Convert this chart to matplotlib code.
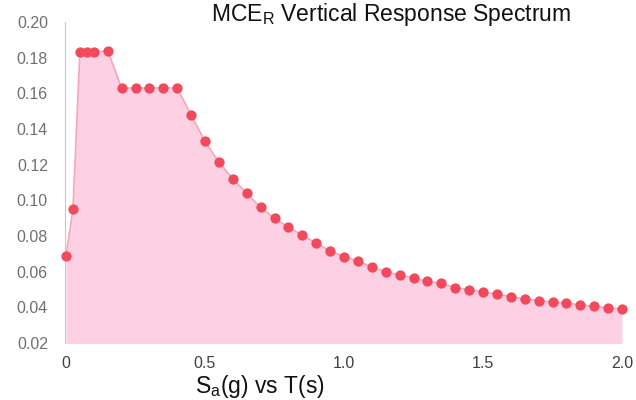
import matplotlib.pyplot as plt

# period T (s) and spectral acceleration Sa (g)
period = [0.0, 0.025, 0.05, 0.075, 0.1, 0.15,
          0.2, 0.25, 0.3, 0.35, 0.4,
          0.45, 0.5, 0.55, 0.6, 0.65, 0.7, 0.75, 0.8, 0.85, 0.9, 0.95,
          1.0, 1.05, 1.1, 1.15, 1.2, 1.25, 1.3, 1.35, 1.4, 1.45,
          1.5, 1.55, 1.6, 1.65, 1.7, 1.75, 1.8, 1.85, 1.9, 1.95, 2.0]
sa = [0.069, 0.095, 0.183, 0.183, 0.183, 0.184,
      0.163, 0.163, 0.163, 0.163, 0.163,
      0.148, 0.133, 0.1215, 0.112, 0.104, 0.096, 0.090, 0.085, 0.0805, 0.076, 0.0716,
      0.0685, 0.066, 0.0626, 0.060, 0.058, 0.0565, 0.0545, 0.0535, 0.051, 0.050,
      0.0486, 0.0475, 0.046, 0.0447, 0.0437, 0.043, 0.0424, 0.0413, 0.0406, 0.0398, 0.0391]
yticks = [0.02, 0.04, 0.06, 0.08, 0.10, 0.12, 0.14, 0.16, 0.18, 0.20]
xticks = [0, 0.5, 1.0, 1.5, 2.0]
xlabels = ['0', '0.5', '1.0', '1.5', '2.0']

plt.rcParams['font.family'] = ['Liberation Sans', 'DejaVu Sans']

fig = plt.figure(figsize=(6.36, 4.0), dpi=100)
ax = fig.add_axes([66 / 636, 1 - 343 / 400, 556 / 636, 321 / 400])

ax.fill_between(period, sa, 0.0, color='#fdd0e4', linewidth=0)
ax.plot(period, sa, color='#f7a5bd', linewidth=1.2)
ax.scatter(period, sa, s=55, color='#f04a5c', zorder=3, clip_on=False, linewidths=0)

ax.set_xlim(0, 2.0)
ax.set_ylim(0.02, 0.20)
ax.set_yticks(yticks)
ax.set_yticklabels(['%.2f' % v for v in yticks])
ax.set_xticks(xticks)
ax.set_xticklabels(xlabels)
ax.tick_params(axis='y', length=0, pad=12, labelsize=11.5, labelcolor='#707070')
ax.tick_params(axis='x', length=0, pad=9, labelsize=11.5, labelcolor='#404040')

for side in ['top', 'right', 'bottom']:
    ax.spines[side].set_visible(False)
ax.spines['left'].set_color('#c8c8c8')
ax.spines['left'].set_position(('outward', 1))

fig.text(391 / 636, 1 - 21 / 400, 'MCE$_\\mathregular{R}$ Vertical Response Spectrum',
         ha='center', va='baseline', fontsize=16.5, color='#111111')
fig.text(260 / 636, 1 - 386 / 400, 'S$_\\mathregular{a}$(g) vs T(s)',
         ha='center', va='center', fontsize=16.5, color='#111111')

fig.savefig('out.png', dpi=100)
